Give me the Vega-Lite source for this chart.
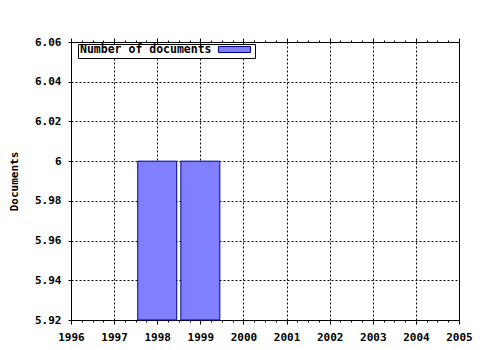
{
  "$schema": "https://vega.github.io/schema/vega-lite/v6.json",
  "autosize": "none",
  "width": 388,
  "height": 278,
  "padding": {"left": 71, "top": 42, "right": 21, "bottom": 30},
  "background": "white",
  "config": {
    "view": {"stroke": "black", "strokeWidth": 1},
    "font": "DejaVu Sans Mono",
    "axis": {
      "labelFont": "DejaVu Sans Mono",
      "labelFontWeight": "bold",
      "labelFontSize": 11,
      "labelColor": "black",
      "titleFont": "DejaVu Sans Mono",
      "titleFontWeight": "bold",
      "titleFontSize": 11,
      "titleColor": "black",
      "domainColor": "black",
      "tickColor": "black"
    }
  },
  "data": {
    "values": [
      {"year": 1998, "documents": 6},
      {"year": 1999, "documents": 6}
    ]
  },
  "encoding": {
    "y": {
      "field": "documents",
      "type": "quantitative",
      "scale": {"domain": [5.92, 6.06], "nice": false, "zero": false, "padding": 0},
      "axis": {
        "title": "Documents",
        "values": [5.92, 5.94, 5.96, 5.98, 6, 6.02, 6.04, 6.06],
        "format": "~g",
        "tickSize": 3,
        "labelPadding": 7,
        "labelOverlap": false,
        "labelFlush": false,
        "grid": true,
        "gridColor": "black",
        "gridDash": [2, 2],
        "domain": false,
        "titleAngle": -90,
        "titleX": -57,
        "titleY": 139,
        "titleAlign": "center",
        "titleBaseline": "middle"
      }
    },
    "y2": {"datum": 5.92}
  },
  "resolve": {"axis": {"x": "independent"}},
  "layer": [
    {
      "mark": {"type": "bar", "size": 39, "stroke": "#000090", "strokeWidth": 1},
      "encoding": {
        "x": {
          "field": "year",
          "type": "quantitative",
          "scale": {"domain": [1996, 2005], "nice": false, "zero": false, "padding": 0},
          "axis": {
            "orient": "bottom",
            "title": null,
            "values": [1996, 1996.25, 1996.5, 1996.75, 1997, 1997.25, 1997.5, 1997.75, 1998, 1998.25, 1998.5, 1998.75, 1999, 1999.25, 1999.5, 1999.75, 2000, 2000.25, 2000.5, 2000.75, 2001, 2001.25, 2001.5, 2001.75, 2002, 2002.25, 2002.5, 2002.75, 2003, 2003.25, 2003.5, 2003.75, 2004, 2004.25, 2004.5, 2004.75, 2005],
            "labelExpr": "datum.value % 1 === 0 ? format(datum.value, 'd') : ''",
            "tickSize": {"condition": {"test": "datum.value % 1 === 0", "value": 4}, "value": 2},
            "grid": true,
            "gridColor": "black",
            "gridDash": [2, 2],
            "gridOpacity": {"condition": {"test": "datum.value % 1 === 0", "value": 1}, "value": 0},
            "labelPadding": 7,
            "labelFlush": false,
            "labelOverlap": false,
            "domain": false
          }
        },
        "color": {
          "datum": "Number of documents",
          "scale": {"range": ["#8080ff"]},
          "legend": {
            "orient": "none",
            "legendX": 7,
            "legendY": 2,
            "title": "Number of documents",
            "titleOrient": "left",
            "titleFont": "DejaVu Sans Mono",
            "titleFontWeight": "bold",
            "titleFontSize": 11.5,
            "titleColor": "black",
            "titlePadding": 19,
            "titleBaseline": "middle",
            "labelExpr": "''",
            "labelOffset": 0,
            "labelFontSize": 1,
            "symbolType": "M-5.33,-1H5.33V1H-5.33Z",
            "symbolSize": 36,
            "symbolStrokeColor": "#000090",
            "symbolStrokeWidth": 1,
            "symbolOpacity": 1,
            "strokeColor": "black",
            "fillColor": "white",
            "padding": 2
          }
        }
      }
    },
    {
      "mark": {"type": "bar", "size": 39, "opacity": 0},
      "encoding": {
        "x": {
          "field": "year",
          "type": "quantitative",
          "axis": {
            "orient": "top",
            "title": null,
            "values": [1996, 1996.25, 1996.5, 1996.75, 1997, 1997.25, 1997.5, 1997.75, 1998, 1998.25, 1998.5, 1998.75, 1999, 1999.25, 1999.5, 1999.75, 2000, 2000.25, 2000.5, 2000.75, 2001, 2001.25, 2001.5, 2001.75, 2002, 2002.25, 2002.5, 2002.75, 2003, 2003.25, 2003.5, 2003.75, 2004, 2004.25, 2004.5, 2004.75, 2005],
            "labels": false,
            "grid": false,
            "domain": false,
            "tickSize": {"condition": {"test": "datum.value % 1 === 0", "value": 4}, "value": 2}
          }
        }
      }
    }
  ]
}
